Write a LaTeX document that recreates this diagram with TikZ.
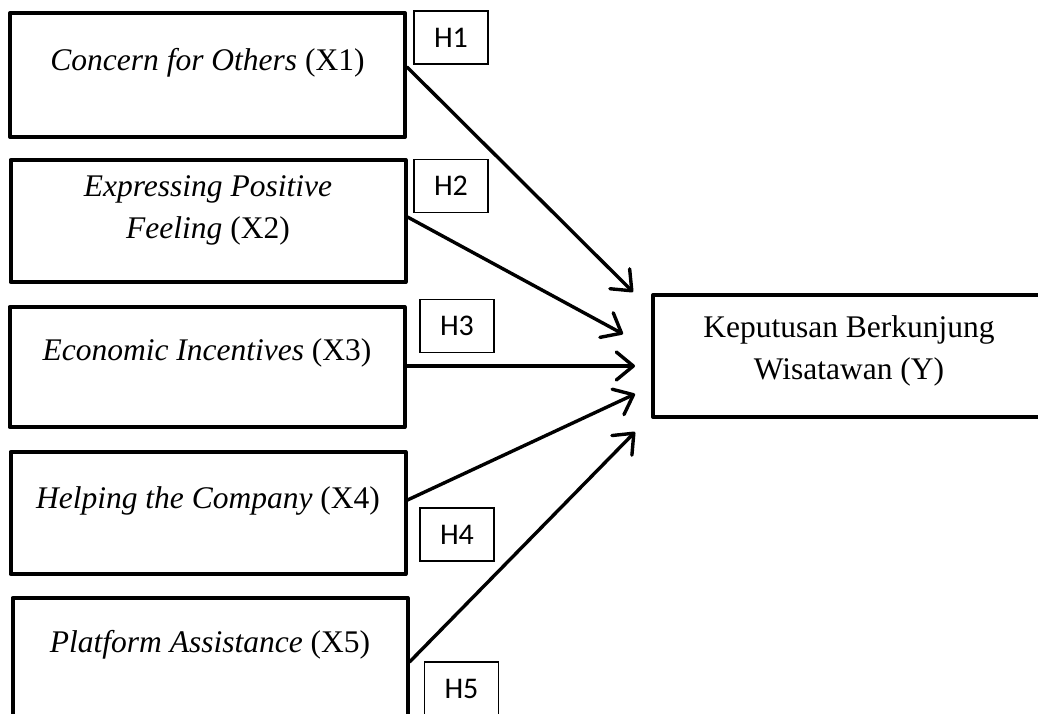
\documentclass[tikz,border=0pt]{standalone}
\usepackage{fontspec}
\setmainfont{Liberation Serif}
\newfontfamily\hfont{Carlito}
\usetikzlibrary{arrows.meta}

\begin{document}
\begin{tikzpicture}[x=1pt, y=1pt,
  varbox/.style={draw, line width=4pt, line join=round, minimum width=395pt, inner sep=0pt},
  vartext/.style={font=\fontsize{31.5}{42}\selectfont, align=center, inner sep=0pt},
  hbox/.style={draw, line width=1.3pt, minimum width=74pt, minimum height=53pt, inner sep=0pt, font=\hfont\fontsize{30}{36}\selectfont},
  link/.style={line width=3.4pt, line cap=round, -{Straight Barb[length=17pt, width=28pt, round]}}]

  \useasboundingbox (0,0) rectangle (1038,713);
  \clip (0,0) rectangle (1038,713);

  % Independent variables (X1..X5)
  \node[varbox, minimum height=124pt] (x1) at (207.5, 638) {};
  \node[varbox, minimum height=122pt] (x2) at (208, 492) {};
  \node[varbox, minimum height=120pt] (x3) at (207, 346) {};
  \node[varbox, minimum height=122pt] (x4) at (208, 200) {};
  \node[varbox, minimum height=124pt] (x5) at (210, 53) {};

  \node[vartext] (x1text) at ([yshift=12pt]x1.center) {\textit{Concern for Others} (X1)};
  \node[vartext] (x2text) at ([yshift=11pt]x2.center) {\textit{Expressing Positive}\\\textit{Feeling} (X2)};
  \node[vartext] (x3text) at ([yshift=14pt]x3.center) {\textit{Economic Incentives} (X3)};
  \node[vartext] (x4text) at ([yshift=12pt]x4.center) {\textit{Helping the Company} (X4)};
  \node[vartext] (x5text) at ([yshift=15pt]x5.center) {\textit{Platform Assistance} (X5)};

  % Dependent variable (Y)
  \node[varbox, minimum width=392pt, minimum height=122pt] (y) at (849, 357) {};
  \node[vartext] (ytext) at ([yshift=5pt]y.center) {Keputusan Berkunjung\\Wisatawan (Y)};

  % Hypothesis labels
  \node[hbox] (h1) at (451, 675.5) {H1};
  \node[hbox] (h2) at (451, 527) {H2};
  \node[hbox] (h3) at (457, 387) {H3};
  \node[hbox] (h4) at (457, 178.5) {H4};
  \node[hbox] (h5) at (461.5, 24.5) {H5};

  % Paths
  \draw[link] ([yshift=8pt]x1.east) -- ([shift={(-18,64)}]y.west);
  \draw[link] ([yshift=4pt]x2.east) -- ([shift={(-28,22)}]y.west);
  \draw[link] ([yshift=1pt]x3.east) -- ([shift={(-16,-10)}]y.west);
  \draw[link] ([yshift=13pt]x4.east) -- ([shift={(-16,-38)}]y.west);
  \draw[link] ([yshift=-2pt]x5.east) -- ([shift={(-16,-76)}]y.west);

\end{tikzpicture}
\end{document}
